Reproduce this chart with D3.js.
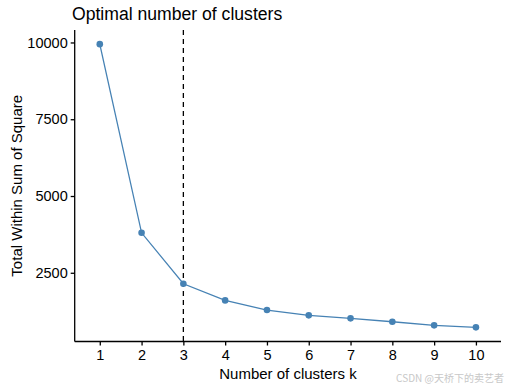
<!DOCTYPE html>
<html>
<head>
<meta charset="utf-8">
<script src="https://cdn.jsdelivr.net/npm/d3@7"></script>
<style>
  body { margin: 0; background: #fff; }
  svg { font-family: "Liberation Sans", Arial, sans-serif; }
</style>
</head>
<body>
<div id="elbowPlot"></div>
<script>
// values
var clusters = ["1", "2", "3", "4", "5", "6", "7", "8", "9", "10"];
var wss = [9945, 3802, 2142, 1601, 1286, 1113, 1016, 905, 788, 723];
var yTicks = [2500, 5000, 7500, 10000];
var bestK = "3";

var width = 508;
var height = 389;
var pLeft = 74.7, pRight = 501, pTop = 30, pBottom = 341.5;

var svg = d3.select("#elbowPlot")
            .append("svg")
            .attr("width", width)
            .attr("height", height);

// discrete x: ggplot adds 0.6 of a step on each side
var x = d3.scalePoint()
          .domain(clusters)
          .range([pLeft, pRight])
          .padding(0.6);

// continuous y with 5% expansion
var lo = d3.min(wss), hi = d3.max(wss), pad = (hi - lo) * 0.05;
var y = d3.scaleLinear()
          .domain([lo - pad, hi + pad])
          .range([pBottom, pTop]);

// axes
var xAxis = svg.append("g")
   .attr("transform", "translate(0," + pBottom + ")")
   .call(d3.axisBottom(x).tickSize(4).tickPadding(4));
var yAxis = svg.append("g")
   .attr("transform", "translate(" + pLeft + ",0)")
   .call(d3.axisLeft(y).tickValues(yTicks).tickSize(4).tickPadding(3).tickFormat(d3.format("d")));

[xAxis, yAxis].forEach(function(a){
  a.select(".domain").attr("stroke", "#000").attr("stroke-width", 1.3);
  a.selectAll(".tick line").attr("stroke", "#000").attr("stroke-width", 1.3);
  a.selectAll(".tick text").attr("fill", "#000").style("font-size", "14.5px")
   .style("font-family", "'Liberation Sans', Arial, sans-serif");
});
// domain paths without outer ticks
xAxis.select(".domain").attr("d", "M" + pLeft + ",0H" + pRight);
yAxis.select(".domain").attr("d", "M0," + pBottom + "V" + pTop);

// vertical dashed line at optimal k
svg.append("line")
   .attr("x1", x(bestK)).attr("x2", x(bestK))
   .attr("y1", pTop).attr("y2", pBottom)
   .attr("stroke", "#000")
   .attr("stroke-width", 1.3)
   .attr("stroke-dasharray", "5,4");

// the elbow line
var line = d3.line()
             .x(function(d, i){ return x(clusters[i]); })
             .y(function(d){ return y(d); });

svg.append("path")
   .datum(wss)
   .attr("d", line)
   .attr("fill", "none")
   .attr("stroke", "steelblue")
   .attr("stroke-width", 1.3);

svg.selectAll("dots")
   .data(wss)
   .enter()
   .append("circle")
   .attr("cx", function(d, i){ return x(clusters[i]); })
   .attr("cy", function(d){ return y(d); })
   .attr("r", 3.3)
   .attr("fill", "steelblue");

// titles
svg.append("text")
   .attr("x", 72)
   .attr("y", 20)
   .attr("font-size", "17.6px")
   .attr("fill", "#000")
   .text("Optimal number of clusters");

svg.append("text")
   .attr("x", 288)
   .attr("y", 379)
   .attr("text-anchor", "middle")
   .attr("font-size", "15px")
   .attr("fill", "#000")
   .text("Number of clusters k");

svg.append("text")
   .attr("transform", "translate(22," + ((pTop + pBottom) / 2) + ") rotate(-90)")
   .attr("text-anchor", "middle")
   .attr("font-size", "15px")
   .attr("fill", "#000")
   .text("Total Within Sum of Square");

// watermark
svg.append("text")
   .attr("x", 504)
   .attr("y", 382)
   .attr("text-anchor", "end")
   .attr("font-size", "10px")
   .attr("fill", "#c8c8c8")
   .style("font-family", "'Noto Sans CJK SC', sans-serif")
   .text("CSDN @天桥下的卖艺者");
</script>
</body>
</html>
